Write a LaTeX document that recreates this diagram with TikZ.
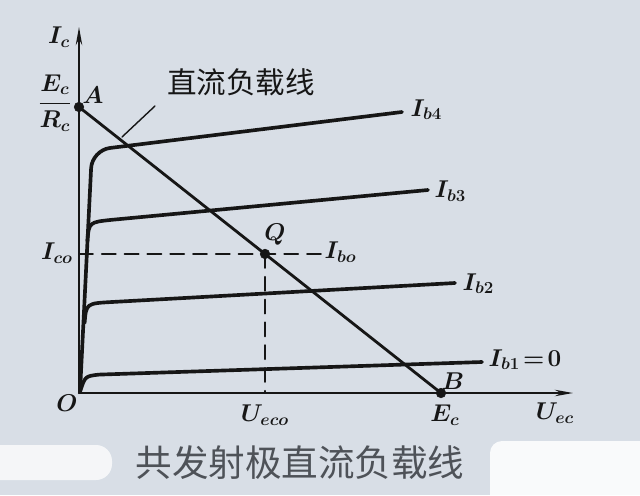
\documentclass[tikz,border=0pt]{standalone}
\usepackage{amsmath}
\usepackage{amssymb}
\usepackage{fontspec}
\newfontfamily\cjk{Noto Sans CJK SC}
\usepackage{tikz}
\usetikzlibrary{arrows.meta}
\definecolor{bgblue}{RGB}{216,222,230}
\definecolor{capgray}{RGB}{78,82,88}
\definecolor{ink}{RGB}{22,22,22}

\begin{document}
\begin{tikzpicture}[line cap=round,
		curve/.style={ink, line width=2.6pt},
		axis/.style={ink, line width=1.6pt, -{Stealth[length=0.45cm,width=0.16cm]}},
		guide/.style={ink, line width=1.3pt, dash pattern=on 0.35cm off 0.22cm},
		lab/.style={ink, font=\fontsize{17}{17}\selectfont\boldmath, inner sep=1pt}]
			\fill[bgblue] (-1.975,-2.55) rectangle (14.025,9.825);
			\useasboundingbox (-1.975,-2.55) rectangle (14.025,9.825);
			\fill[white, opacity=0.75, rounded corners=0.4cm] (-2.4,-1.3) rectangle (0.825,-2.175);
			\fill[white, opacity=0.85, rounded corners=0.3cm] (10.275,-1.2) rectangle (14.4,-2.9);
			% points
			\coordinate (O) at (0,0);
			\coordinate (A) at (0,7.15);
			\coordinate (B) at (9.05,0);
			\coordinate (Q) at (4.65,3.476);
			\coordinate (lead) at (1.075,6.4);
			% axes
			\draw[axis] (O) -- (0,9.15);
			\draw[axis] (O) -- (12.35,0);
			% output curves
			\draw[curve, rounded corners=0.45cm] (0.025,0.025) -- (0.325,6.07) -- (8.075,7.025);
			\draw[curve] (0.21,3.8) .. controls (0.25,4.27) .. (0.825,4.33) -- (8.725,5.075);
			\draw[curve] (0.14,1.75) .. controls (0.18,2.24) .. (0.825,2.275) -- (9.4,2.75);
			\draw[curve] (0.025,0.025) .. controls (0.15,0.42) .. (0.5,0.46) -- (10.075,0.775);
			% load line and Q
			\draw[guide] (0,3.476) -- (Q) -- (6.05,3.476);
			\draw[guide] (Q) -- (4.65,0);
			\draw[ink, line width=2pt] (A) -- (B);
			\draw[fill,ink] (A) circle (0.12);
			\draw[fill,ink] (B) circle (0.12);
			\draw[fill,ink] (Q) circle (0.12);
			% labels
			\node[lab] (Ic) at (-0.5,8.9) {$I_c$};
			\node[lab] (EcRc) at (-0.6,7.25) {$\dfrac{E_c}{R_c}$};
			\node[lab] (Alab) at (0.35,7.45) {$A$};
			\node[lab] (Olab) at (-0.3,-0.25) {$O$};
			\node[lab] (Qlab) at (4.9,3.95) {$Q$};
			\node[lab] (Blab) at (9.35,0.3) {$B$};
			\node[lab] (Ic0) at (-0.55,3.5) {$I_{co}$};
			\node[lab] (Uec0) at (4.65,-0.55) {$U_{eco}$};
			\node[lab] (Ec) at (9.15,-0.55) {$E_c$};
			\node[lab] (Uec) at (11.9,-0.5) {$U_{ec}$};
			\node[lab, anchor=west] (Ib4) at (8.25,7.08) {$I_{b4}$};
			\node[lab, anchor=west] (Ib3) at (8.85,5.05) {$I_{b3}$};
			\node[lab, anchor=west] (Ib0) at (6.1,3.52) {$I_{bo}$};
			\node[lab, anchor=west] (Ib2) at (9.55,2.73) {$I_{b2}$};
			\node[lab, anchor=west] (Ib1) at (10.2,0.83) {$I_{b1}\!=\!0$};
			% annotation
			\node[ink, font=\cjk\fontsize{21}{21}\selectfont] (dcfz) at (4.05,7.775) {直流负载线};
			\draw[ink, line width=1pt] (1.9,7.175) -- (lead);
			\node[capgray, font=\cjk\fontsize{26}{26}\selectfont] (title) at (5.525,-1.75) {共发射极直流负载线};
		\end{tikzpicture}
\end{document}
